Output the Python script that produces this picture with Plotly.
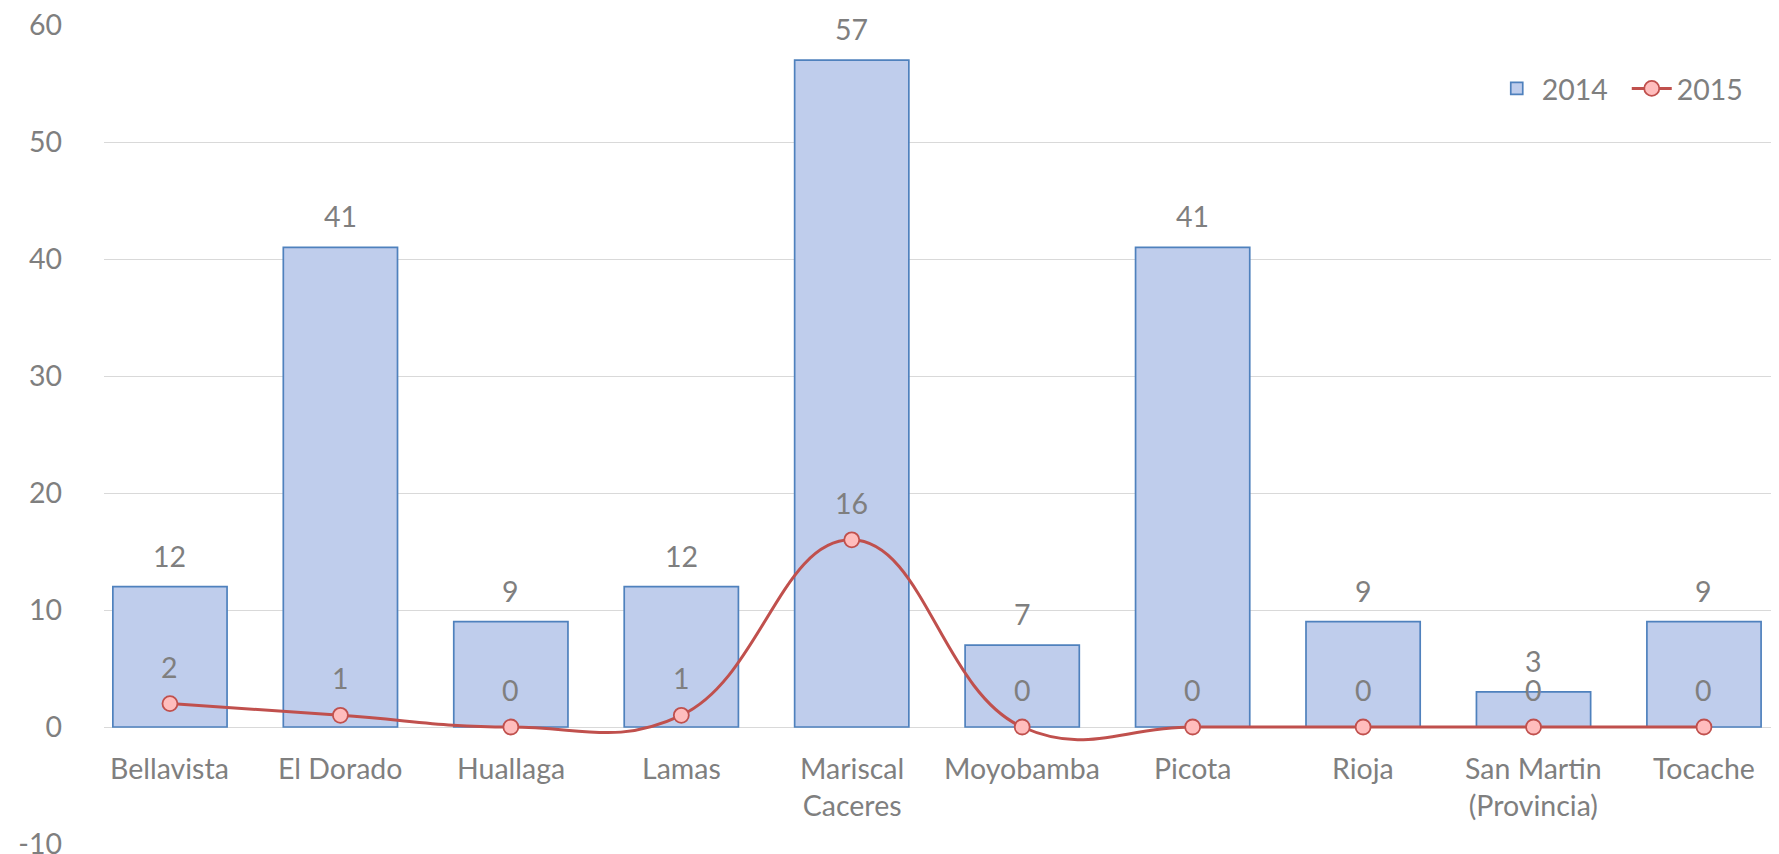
import plotly.graph_objects as go

categories = ["Bellavista", "El Dorado", "Huallaga", "Lamas", "Mariscal<br>Caceres",
              "Moyobamba", "Picota", "Rioja", "San Martin<br>(Provincia)", "Tocache"]
values_2014 = [12, 41, 9, 12, 57, 7, 41, 9, 3, 9]
values_2015 = [2, 1, 0, 1, 16, 0, 0, 0, 0, 0]
y_ticks = [-10, 0, 10, 20, 30, 40, 50, 60]
y_tick_labels = ["-10", "0", "10", "20", "30", "40", "50", "60"]

FONT = "Lato"
GRAY = "#7f7f7f"
FS = 28.5

fig = go.Figure()
fig.add_trace(go.Bar(
    x=categories, y=values_2014, name="2014",
    marker=dict(color="#bfcdec", line=dict(color="#4f81bd", width=1.7)),
))
fig.add_trace(go.Scatter(
    x=categories, y=values_2015, name="2015", mode="lines+markers",
    line=dict(color="#c0504d", width=3, shape="spline", smoothing=1.25),
    marker=dict(symbol="circle", size=15, color="#ffbdbd",
                line=dict(color="#c0504d", width=1.8)),
))

annotations = []
for c, v in zip(categories, values_2014):
    annotations.append(dict(x=c, y=v, text=str(v), showarrow=False, xref="x", yref="y",
                            yanchor="middle", yshift=31,
                            font=dict(family=FONT, size=FS, color=GRAY)))
for c, v in zip(categories, values_2015):
    annotations.append(dict(x=c, y=v, text=str(v), showarrow=False, xref="x", yref="y",
                            yanchor="middle", yshift=37,
                            font=dict(family=FONT, size=FS, color=GRAY)))
for c in categories:
    annotations.append(dict(x=c, y=0, text=c, showarrow=False, xref="x", yref="y",
                            yanchor="top", yshift=-22,
                            font=dict(family=FONT, size=FS, color=GRAY)))

fig.update_layout(
    width=1779, height=854,
    margin=dict(l=96, r=0, t=17, b=18),
    paper_bgcolor="white", plot_bgcolor="white",
    bargap=0.33,
    font=dict(family=FONT, size=FS, color=GRAY),
    annotations=annotations,
    showlegend=True,
    legend=dict(orientation="h", x=0.985, xanchor="right", y=0.922, yanchor="middle",
                font=dict(family=FONT, size=FS, color=GRAY), bgcolor="rgba(0,0,0,0)",
                itemwidth=40, entrywidth=80),
    xaxis=dict(type="category", range=[-0.387, 9.487], showticklabels=False,
               showgrid=False, showline=False, ticks=""),
    yaxis=dict(range=[-10, 60], tickvals=y_ticks, ticktext=y_tick_labels,
               showgrid=True, gridcolor="#d9d9d9",
               gridwidth=1.3, zeroline=True, zerolinecolor="#d9d9d9", zerolinewidth=1.3,
               showline=False, ticks="", ticklabelstandoff=41, ticklabeloverflow="allow",
               tickfont=dict(family=FONT, size=FS, color=GRAY)),
)

fig.write_html("out.html")
